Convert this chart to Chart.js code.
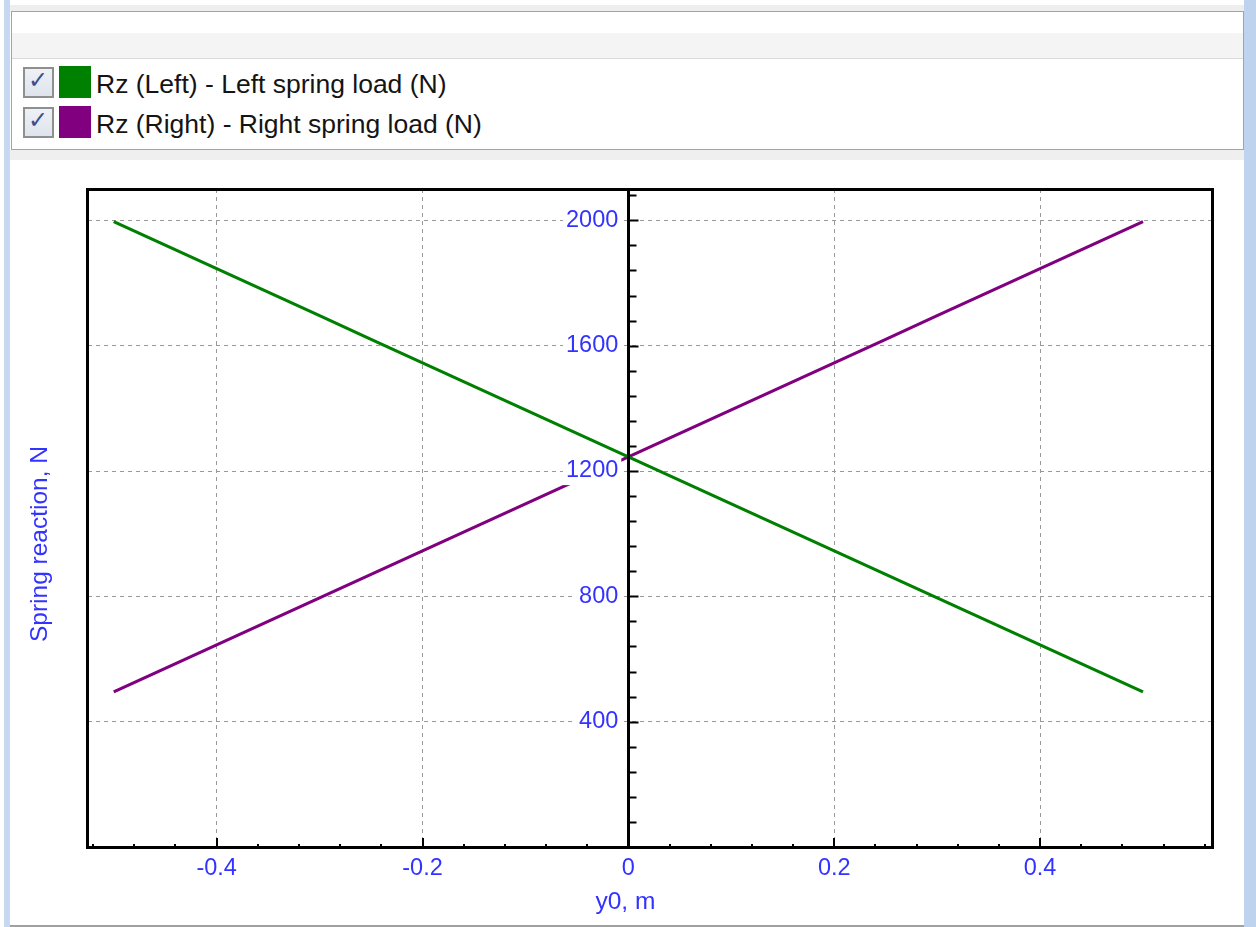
<!DOCTYPE html>
<html>
<head>
<meta charset="utf-8">
<script src="https://cdn.jsdelivr.net/npm/chart.js@4/dist/chart.umd.min.js"></script>
<style>
  html, body { margin: 0; padding: 0; background: #fff; }
  body { width: 1256px; height: 927px; position: relative; overflow: hidden; font-family: "Liberation Sans", Arial, sans-serif; }
  .abs { position: absolute; box-sizing: border-box; }
  #legendBox { left: 11px; top: 11px; width: 1233px; height: 139px; border: 1px solid #a3a3a3; background: #fff; }
  #legendHead { left: 0; top: 21px; width: 100%; height: 26px; background: #f4f4f4; border-bottom: 1px solid #dadada; }
  .item { position: absolute; left: 0; height: 32px; width: 900px; }
  .cb { position: absolute; left: 11px; top: 0; width: 31px; height: 31px; border: 2px solid #8e8f8f; background: linear-gradient(#eef1f6, #dfe4ec); box-sizing: border-box; }
  .cb span { position: absolute; left: 3px; top: -3px; font-size: 24px; color: #3c4f94; font-weight: bold; font-family: "DejaVu Sans", sans-serif; }
  .sw { position: absolute; left: 47px; top: -1px; width: 32px; height: 32px; box-sizing: border-box; }
  .lt { position: absolute; left: 84px; top: -2px; font-size: 26.5px; color: #141414; white-space: nowrap; line-height: 38px; }
  #chartWrap { left: 0; top: 160px; width: 1256px; height: 767px; }
</style>
</head>
<body>
<div class="abs" style="left:4px;top:0;width:6px;height:927px;background:#c5d9f0;"></div>
<div class="abs" style="left:1244px;top:0;width:12px;height:927px;background:#bed4ee;"></div>
<div class="abs" style="left:10px;top:5px;width:1234px;height:7px;background:#eeeeee;"></div>
<div class="abs" style="left:10px;top:150px;width:1234px;height:10px;background:#efefef;"></div>
<div class="abs" style="left:10px;top:925px;width:1234px;height:2px;background:#a0a0a0;"></div>
<div class="abs" id="legendBox">
  <div class="abs" id="legendHead"></div>
  <div id="legendItems"></div>
</div>
<div class="abs" id="chartWrap"><canvas id="c" width="1256" height="767"></canvas></div>
<script>
// ---- data ----
const xValues = [-0.5, -0.45, -0.4, -0.35, -0.3, -0.25, -0.2, -0.15, -0.1, -0.05, 0, 0.05, 0.1, 0.15, 0.2, 0.25, 0.3, 0.35, 0.4, 0.45, 0.5];
const leftLoad  = [1996, 1921, 1846, 1771, 1696, 1620, 1545, 1470, 1395, 1320, 1245, 1170, 1095, 1020, 945, 870, 795, 720, 645, 570, 495];
const rightLoad = [495, 570, 645, 720, 795, 870, 945, 1020, 1095, 1170, 1245, 1320, 1395, 1470, 1545, 1620, 1696, 1771, 1846, 1921, 1996];
const seriesNames = ['Rz (Left) - Left spring load (N)', 'Rz (Right) - Right spring load (N)'];
const seriesColors = ['#008000', '#800080'];
const xTickValues = [-0.4, -0.2, 0, 0.2, 0.4];
const yTickValues = [400, 800, 1200, 1600, 2000];
const xTitle = 'y0, m';
const yTitle = 'Spring reaction, N';
const xRange = [-0.525, 0.568];
const yRange = [0, 2100];
const xMinorStep = 0.04;
const yMinorStep = 80;
const yLabelAnchor = -0.0098; // labels sit just left of the zero line

const BLUE = '#3333ff';
const FONT = '"Liberation Sans", Arial, sans-serif';

// ---- HTML legend built from the series arrays ----
const legendItems = document.getElementById('legendItems');
seriesNames.forEach((name, i) => {
  const it = document.createElement('div');
  it.className = 'item';
  it.style.top = (55 + i * 40) + 'px';
  it.innerHTML = '<div class="cb"><span>\u2713</span></div>' +
    '<div class="sw" style="background:' + seriesColors[i] + ';border:1px solid ' + seriesColors[i] + '"></div>' +
    '<div class="lt"></div>';
  it.querySelector('.lt').textContent = name;
  legendItems.appendChild(it);
});

const seriesValues = [leftLoad, rightLoad];
const datasets = seriesValues.map((vals, i) => ({
  label: seriesNames[i],
  data: xValues.map((x, j) => ({ x: x, y: vals[j] })),
  borderColor: seriesColors[i],
  backgroundColor: seriesColors[i],
  borderWidth: 3.2,
  pointRadius: 0,
  showLine: true,
  tension: 0,
  fill: false
}));

const decorPlugin = {
  id: 'decor',
  afterDraw(chart) {
    const { ctx, chartArea: a, scales: { x, y } } = chart;
    ctx.save();
    ctx.strokeStyle = '#000';
    // zero line (y axis)
    const x0 = Math.round(x.getPixelForValue(0)) + 0.5;
    ctx.lineWidth = 3;
    ctx.beginPath(); ctx.moveTo(x0, a.top); ctx.lineTo(x0, a.bottom); ctx.stroke();
    // minor / major tick marks on the x axis (bottom edge, pointing up)
    ctx.lineWidth = 2;
    const kx0 = Math.ceil(x.min / xMinorStep - 1e-9), kx1 = Math.floor(x.max / xMinorStep + 1e-9);
    for (let k = kx0; k <= kx1; k++) {
      if (k === 0) continue;
      const px = Math.round(x.getPixelForValue(k * xMinorStep));
      const len = (k % 5 === 0) ? 9 : 3;
      ctx.beginPath(); ctx.moveTo(px, a.bottom); ctx.lineTo(px, a.bottom - len); ctx.stroke();
    }
    // tick marks on the y axis (right of the zero line)
    const ky1 = Math.floor(y.max / yMinorStep + 1e-9);
    for (let k = 1; k <= ky1; k++) {
      const py = Math.round(y.getPixelForValue(k * yMinorStep)) + 0.5;
      const len = (k % 5 === 0) ? 10 : 8;
      ctx.beginPath(); ctx.moveTo(x0, py); ctx.lineTo(x0 + len, py); ctx.stroke();
    }
    // frame
    ctx.lineWidth = 3;
    ctx.strokeRect(Math.round(a.left) - 0.5, Math.round(a.top) + 0.5, Math.round(a.right - a.left), Math.round(a.bottom - a.top));
    // axis titles
    ctx.fillStyle = BLUE;
    ctx.font = '24.5px ' + FONT;
    ctx.textAlign = 'center';
    ctx.textBaseline = 'middle';
    ctx.fillText(xTitle, x.getPixelForValue(0) - 3, a.bottom + 55);
    ctx.translate(40, 384);
    ctx.rotate(-Math.PI / 2);
    ctx.fillText(yTitle, 0, 0);
    ctx.restore();
  }
};

new Chart(document.getElementById('c'), {
  type: 'scatter',
  data: { datasets },
  options: {
    responsive: false,
    animation: false,
    events: [],
    layout: { padding: { left: 88, right: 43, top: 29, bottom: 30 } },
    plugins: { legend: { display: false }, tooltip: { enabled: false } },
    scales: {
      x: {
        type: 'linear',
        position: 'bottom',
        min: xRange[0], max: xRange[1],
        afterBuildTicks: s => { s.ticks = xTickValues.map(v => ({ value: v })); },
        afterFit: s => { s.height = 50; },
        ticks: {
          color: BLUE, padding: 7,
          font: { family: FONT, size: 23.5 },
          maxRotation: 0, autoSkip: false,
          callback: v => (v === 0 ? '0' : Number(v).toFixed(1))
        },
        grid: {
          drawTicks: false, lineWidth: 1,
          color: c => (c.tick && Math.abs(c.tick.value) < 1e-9 ? 'rgba(0,0,0,0)' : '#999999')
        },
        border: { display: false, dash: [4, 4] }
      },
      y: {
        type: 'linear',
        position: { x: yLabelAnchor },
        min: yRange[0], max: yRange[1],
        afterBuildTicks: s => { s.ticks = yTickValues.map(v => ({ value: v })); },
        ticks: {
          z: 1,
          color: BLUE, padding: 10,
          font: { family: FONT, size: 23.5 },
          autoSkip: false,
          showLabelBackdrop: true,
          backdropColor: '#ffffff',
          backdropPadding: { left: 3, right: 3, top: 0, bottom: 0 },
          callback: v => String(v)
        },
        grid: { drawTicks: false, lineWidth: 1, color: '#999999' },
        border: { display: false, dash: [4, 4] }
      }
    }
  },
  plugins: [decorPlugin]
});
</script>
</body>
</html>
